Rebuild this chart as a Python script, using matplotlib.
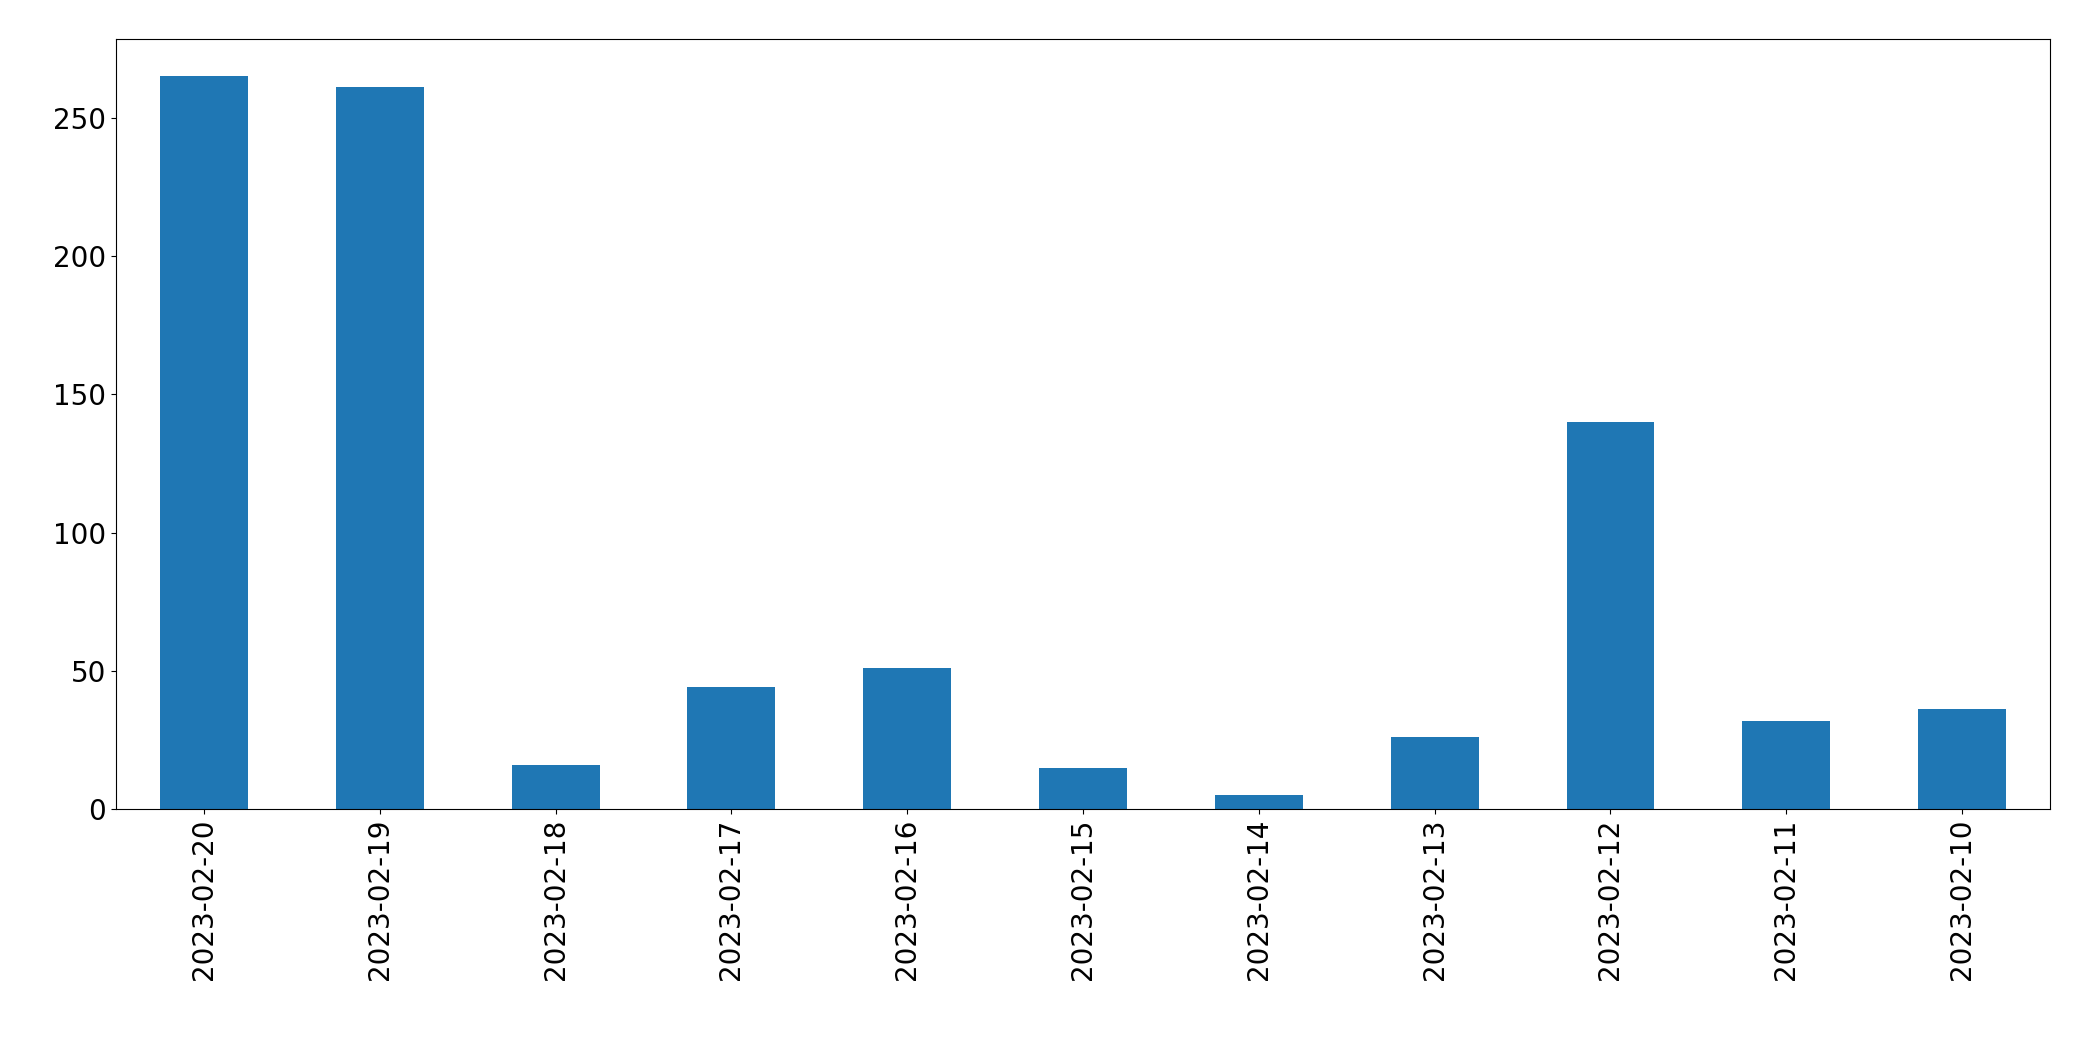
import matplotlib
matplotlib.use("Agg")
import matplotlib.pyplot as plt

dates = ["2023-02-20","2023-02-19","2023-02-18","2023-02-17","2023-02-16","2023-02-15",
         "2023-02-14","2023-02-13","2023-02-12","2023-02-11","2023-02-10"]
counts = [265, 261, 16, 44, 51, 15, 5, 26, 140, 32, 36]

fig = plt.figure(figsize=(20.93, 10.61), dpi=100)
ax = fig.add_axes([116/2093, 1-809/1061, (2050-116)/2093, (809-39)/1061])
ax.bar(range(len(dates)), counts, width=0.5, color="#1f77b4")
ax.set_xticks(range(len(dates)))
ax.set_xticklabels(dates, rotation=90)
ax.set_xlim(-0.5, len(dates)-0.5)
ax.set_ylim(0, 278.5)
ax.tick_params(labelsize=20)
fig.savefig("out.png", dpi=100)
